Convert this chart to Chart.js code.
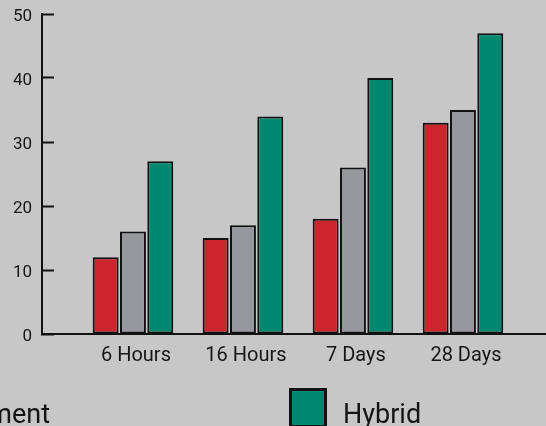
<!DOCTYPE html>
<html>
<head>
<meta charset="utf-8">
<script src="https://cdn.jsdelivr.net/npm/chart.js@4/dist/chart.umd.min.js"></script>
<style>
  html, body { margin: 0; padding: 0; }
  body { width: 546px; height: 426px; overflow: hidden; background: #c7c7c7; position: relative; font-family: Roboto, "Noto Sans", sans-serif; }
  #wrap { position: absolute; left: 0; top: 0; width: 546px; height: 426px; }
  canvas { position: absolute; left: 0; top: 0; }
  .lg-text { position: absolute; font-size: 27px; line-height: 32px; color: #141414; white-space: nowrap; }
  .lg-box { position: absolute; box-sizing: border-box; border: 3px solid #111; }
</style>
</head>
<body>
<div id="wrap">
  <canvas id="c" width="546" height="426"></canvas>
  <div class="lg-text" id="lgLeft" style="right:496px; top:398px;"></div>
  <div class="lg-box" id="lgBox" style="left:289px; top:388px; width:38px; height:40px;"></div>
  <div class="lg-text" id="lgRight" style="left:343px; top:398px;"></div>
</div>
<script>
const categories = ['6 Hours', '16 Hours', '7 Days', '28 Days'];
const seriesNames = ['Portland Cement', 'Blended Cement', 'Hybrid'];
const cementValues = [12, 15, 18, 33];
const blendedValues = [16, 17, 26, 35];
const hybridValues = [27, 34, 40, 47];
const yTicks = [0, 10, 20, 30, 40, 50];

const colors = ['#cb252e', '#97989b', '#00876f'];

function toPoints(vals) { return vals.map((v, i) => ({ x: i, y: v })); }

document.getElementById('lgLeft').textContent = seriesNames[0];
document.getElementById('lgRight').textContent = seriesNames[2];
document.getElementById('lgBox').style.background = colors[2];

const ds = [cementValues, blendedValues, hybridValues].map((vals, k) => ({
  label: seriesNames[k],
  data: toPoints(vals),
  backgroundColor: colors[k],
  borderColor: '#111',
  borderWidth: 2,
  borderSkipped: false,
  categoryPercentage: 0.745,
  barPercentage: 0.95
}));

new Chart(document.getElementById('c'), {
  type: 'bar',
  data: { datasets: ds },
  options: {
    responsive: false,
    animation: false,
    layout: { padding: { top: 14, right: 0, bottom: 0, left: 0 } },
    plugins: { legend: { display: false }, tooltip: { enabled: false } },
    scales: {
      x: {
        type: 'linear',
        offset: false,
        min: -0.827,
        max: 3.755,
        afterBuildTicks(s) { s.ticks = categories.map((_, i) => ({ value: i })); },
        afterFit(s) { s.height = 92; s.paddingLeft = 0; s.paddingRight = 0; },
        grid: { display: false, drawTicks: false, offset: false },
        border: { display: true, color: '#111', width: 2 },
        ticks: {
          callback: (v) => categories[v] ?? '',
          font: { family: 'Roboto', size: 20 },
          color: '#161616',
          padding: 10,
          labelOffset: 3,
          maxRotation: 0,
          autoSkip: false
        }
      },
      y: {
        min: 0,
        max: 50,
        afterBuildTicks(s) { s.ticks = yTicks.map(v => ({ value: v })); },
        afterFit(s) { s.width = 42; s.paddingTop = 0; s.paddingBottom = 0; },
        grid: { display: true, drawOnChartArea: false, drawTicks: true, tickLength: -12, tickWidth: 2, tickColor: '#111' },
        border: { display: true, color: '#111', width: 2 },
        ticks: {
          font: { family: 'Roboto', size: 17 },
          color: '#161616',
          padding: 22,
          labelOffset: 3
        }
      }
    }
  }
});
</script>
</body>
</html>
